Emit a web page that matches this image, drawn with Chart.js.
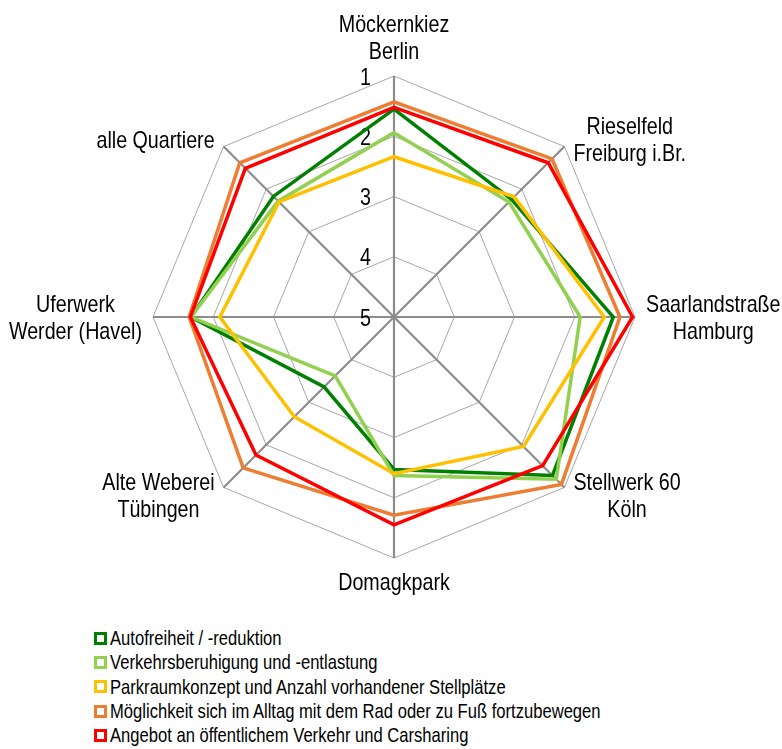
<!DOCTYPE html>
<html lang="de">
<head>
<meta charset="utf-8">
<script src="https://cdn.jsdelivr.net/npm/chart.js@4.4.1/dist/chart.umd.min.js"></script>
<style>
  body { margin: 0; background: #fff; }
  #wrap { position: relative; width: 782px; height: 749px; }
  #radar { position: absolute; left: 0; top: 0; }
  #legende {
    position: absolute; left: 94px; top: 626px;
    font-family: 'Liberation Sans', Arial, sans-serif;
    font-size: 21px; color: #000;
  }
  .eintrag { display: flex; align-items: center; height: 24.3px; white-space: nowrap; }
  .kasten { width: 7px; height: 7px; border: 3px solid; background: #fff; margin-right: 3px; flex: none; }
  .text { display: inline-block; transform: scaleX(0.79); transform-origin: left center; }
</style>
</head>
<body>
<div id="wrap">
  <canvas id="radar" width="782" height="625"></canvas>
  <div id="legende"></div>
</div>
<script>
// Quartiere (Achsen) und Bewertungen 1 (beste) bis 5
const quartiere = [
  ['Möckernkiez', 'Berlin'],
  ['Rieselfeld', 'Freiburg i.Br.'],
  ['Saarlandstraße', 'Hamburg'],
  ['Stellwerk 60', 'Köln'],
  'Domagkpark',
  ['Alte Weberei', 'Tübingen'],
  ['Uferwerk', 'Werder (Havel)'],
  'alle Quartiere'
];
const skala = [1, 2, 3, 4, 5];

const autofreiheit       = [1.55, 2.24, 1.36, 1.28, 2.47, 3.36, 1.63, 2.17];
const verkehrsberuhigung = [1.94, 2.30, 1.91, 1.19, 2.37, 3.62, 1.63, 2.28];
const parkraum           = [2.34, 2.18, 1.51, 1.96, 2.40, 2.66, 2.11, 2.30];
const radFuss            = [1.43, 1.29, 1.25, 1.07, 1.71, 1.46, 1.60, 1.38];
const oepnvCarsharing    = [1.52, 1.38, 1.04, 1.51, 1.55, 1.76, 1.62, 1.51];

const schrift = "'Liberation Sans', Arial, sans-serif";
const stauchung = 0.82; // schmal laufende Schrift

function serie(label, data, farbe, order) {
  return {
    label, data, order,
    borderColor: farbe,
    backgroundColor: '#fff',
    borderWidth: 3.5,
    borderJoinStyle: 'miter',
    pointRadius: 0,
    fill: false
  };
}

function schreibe(ctx, text, x, y) {
  ctx.save();
  ctx.translate(x, y);
  ctx.scale(stauchung, 1);
  ctx.fillText(text, 0, 0);
  ctx.restore();
}

// Skalenwerte links neben der oberen Achse, Quartiersnamen außen
const beschriftung = {
  id: 'beschriftung',
  beforeDatasetsDraw(chart) {
    const r = chart.scales.r;
    const ctx = chart.ctx;
    ctx.save();
    ctx.fillStyle = '#000';
    ctx.font = '24px ' + schrift;
    ctx.textAlign = 'right';
    ctx.textBaseline = 'middle';
    skala.forEach(v => {
      const d = r.getDistanceFromCenterForValue(v);
      schreibe(ctx, String(v), r.xCenter - 23, r.yCenter - d + 2);
    });
    ctx.restore();
  },
  afterDraw(chart) {
    const r = chart.scales.r;
    const ctx = chart.ctx;
    const zeilenAbstand = 27, versal = 17;
    ctx.save();
    ctx.fillStyle = '#000';
    ctx.font = '24px ' + schrift;
    ctx.textAlign = 'center';
    ctx.textBaseline = 'alphabetic';
    chart.data.labels.forEach((name, i) => {
      const zeilen = [].concat(name);
      const p = r.getPointPosition(i, r.drawingArea);
      const dx = p.x - r.xCenter, dy = p.y - r.yCenter;
      const breite = stauchung * Math.max(...zeilen.map(z => ctx.measureText(z).width));
      const hoehe = versal + (zeilen.length - 1) * zeilenAbstand;
      let mx, my;
      if (Math.abs(dx) < 1) {
        mx = p.x;
        my = dy < 0 ? p.y - 17 - hoehe / 2 : p.y + 32 + hoehe / 2 - versal;
      } else {
        const luecke = Math.abs(dy) < 1 ? 11 : 9;
        mx = dx > 0 ? p.x + luecke + breite / 2 : p.x - luecke - breite / 2;
        my = p.y + (Math.abs(dy) < 1 ? 0 : Math.sign(dy) * 7.5);
      }
      const erste = my - hoehe / 2 + versal;
      zeilen.forEach((z, k) => schreibe(ctx, z, mx, erste + k * zeilenAbstand));
    });
    ctx.restore();
  }
};

const chart = new Chart(document.getElementById('radar'), {
  type: 'radar',
  data: {
    labels: quartiere,
    datasets: [
      serie('Autofreiheit / -reduktion', autofreiheit, '#008000', 5),
      serie('Verkehrsberuhigung und -entlastung', verkehrsberuhigung, '#92d050', 4),
      serie('Parkraumkonzept und Anzahl vorhandener Stellplätze', parkraum, '#ffc000', 3),
      serie('Möglichkeit sich im Alltag mit dem Rad oder zu Fuß fortzubewegen', radFuss, '#ed7d31', 2),
      serie('Angebot an öffentlichem Verkehr und Carsharing', oepnvCarsharing, '#ff0000', 1)
    ]
  },
  options: {
    responsive: false,
    animation: false,
    devicePixelRatio: 1,
    layout: { padding: { left: 153, right: 147, top: 76, bottom: 67 } },
    scales: {
      r: {
        min: 1,
        max: 5,
        reverse: true,
        ticks: { stepSize: 1, display: false, reverse: true },
        grid: { color: '#a6a6a6', lineWidth: 1 },
        angleLines: { color: '#8c8c8c', lineWidth: 2.2 },
        pointLabels: { display: false }
      }
    },
    plugins: {
      legend: { display: false },
      tooltip: { enabled: false }
    }
  },
  plugins: [beschriftung]
});

// Legende untereinander, Reihenfolge wie die Datenreihen
const legende = document.getElementById('legende');
chart.data.datasets.forEach(ds => {
  const zeile = document.createElement('div');
  zeile.className = 'eintrag';
  const kasten = document.createElement('span');
  kasten.className = 'kasten';
  kasten.style.borderColor = ds.borderColor;
  const text = document.createElement('span');
  text.className = 'text';
  text.textContent = ds.label;
  zeile.appendChild(kasten);
  zeile.appendChild(text);
  legende.appendChild(zeile);
});
</script>
</body>
</html>
